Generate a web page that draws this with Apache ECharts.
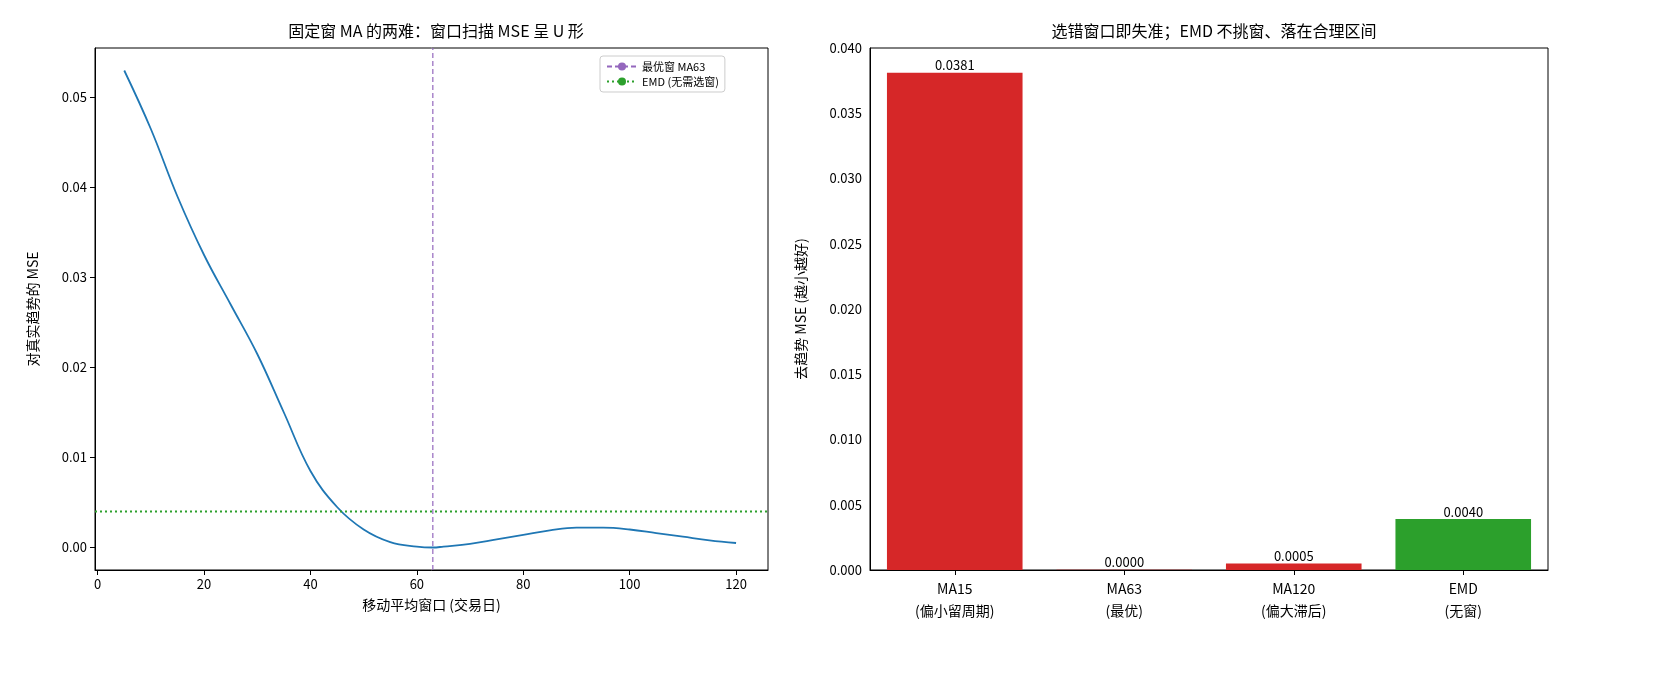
<![CDATA[<!DOCTYPE html><html><head><meta charset="utf-8"><script src="https://cdn.jsdelivr.net/npm/echarts@6/dist/echarts.min.js"></script>
<style>body{margin:0}#c{width:1680px;height:700px}</style></head><body><div id="c"></div><script>
const winX=[5,10,15,20,25,30,35,40,45,50,55,60,63,65,70,75,80,85,90,95,100,105,110,115,120];
const mseY=[0.053,0.0465,0.039,0.0325,0.027,0.0215,0.015,0.0085,0.0045,0.002,0.0006,0.0001,0,0.0001,0.0004,0.0009,0.0014,0.0019,0.0022,0.0022,0.002,0.0016,0.0012,0.0008,0.0005];
const bestWin=63, emdMse=0.004;
const barCats=['MA15\n(偏小留周期)','MA63\n(最优)','MA120\n(偏大滞后)','EMD\n(无窗)'];
const barVals=[0.0381,0.00001,0.0005,0.0039];
const barLabels=['0.0381','0.0000','0.0005','0.0040'];
const barColors=['#d62728','#d62728','#d62728','#2ca02c'];
const F='"Noto Sans CJK SC", sans-serif';
const ax={axisLine:{show:true,onZero:false,lineStyle:{color:'#000'}},axisTick:{lineStyle:{color:'#000'}},axisLabel:{color:'#000',fontSize:13,fontFamily:F},splitLine:{show:false}};
const c=echarts.init(document.getElementById('c'));
c.setOption({animation:false,textStyle:{fontFamily:F},
title:[{text:'固定窗 MA 的两难：窗口扫描 MSE 呈 U 形',left:431,top:18,textAlign:'center',textStyle:{fontSize:16,fontWeight:'normal',color:'#000'}},
{text:'选错窗口即失准；EMD 不挑窗、落在合理区间',left:1209,top:18,textAlign:'center',textStyle:{fontSize:16,fontWeight:'normal',color:'#000'}}],
legend:{left:600,top:56,orient:'vertical',itemWidth:30,itemHeight:10,borderColor:'#ccc',borderWidth:1,borderRadius:3,padding:[5,6],itemGap:4,textStyle:{fontSize:11,color:'#000'},data:['最优窗 MA63','EMD (无需选窗)']},
grid:[{left:95,top:48,width:673,bottom:130,show:true,borderColor:'#000',borderWidth:1},{left:870,top:48,width:678,bottom:130,show:true,borderColor:'#000',borderWidth:1}],
xAxis:[{...ax,type:'value',gridIndex:0,min:-0.5,max:126,name:'移动平均窗口 (交易日)',nameLocation:'middle',nameGap:28,nameTextStyle:{fontSize:14,color:'#000'},axisLabel:{...ax.axisLabel,customValues:[0,20,40,60,80,100,120]},axisTick:{...ax.axisTick,customValues:[0,20,40,60,80,100,120]}},
{...ax,type:'category',gridIndex:1,data:barCats,axisTick:{show:true,alignWithLabel:true,lineStyle:{color:'#000'}},axisLabel:{...ax.axisLabel,fontSize:14,lineHeight:22}}],
yAxis:[{...ax,type:'value',gridIndex:0,min:-0.0025,max:0.0555,name:'对真实趋势的 MSE',nameLocation:'middle',nameGap:55,nameTextStyle:{fontSize:14,color:'#000'},axisLabel:{...ax.axisLabel,customValues:[0,0.01,0.02,0.03,0.04,0.05],formatter:v=>v.toFixed(2)},axisTick:{...ax.axisTick,customValues:[0,0.01,0.02,0.03,0.04,0.05]}},
{...ax,type:'value',gridIndex:1,min:0,max:0.04,interval:0.005,name:'去趋势 MSE (越小越好)',nameLocation:'middle',nameGap:62,nameTextStyle:{fontSize:14,color:'#000'},axisLabel:{...ax.axisLabel,formatter:v=>v.toFixed(3)}}],
series:[{type:'line',xAxisIndex:0,yAxisIndex:0,data:winX.map((x,i)=>[x,mseY[i]]),smooth:0.4,showSymbol:false,lineStyle:{color:'#1f77b4',width:1.8},z:3},
{name:'最优窗 MA63',type:'line',xAxisIndex:0,yAxisIndex:0,data:[[bestWin,-0.0025],[bestWin,0.0555]],symbol:'none',color:'#9467bd',lineStyle:{color:'#9467bd',width:1.2,type:[5,3]}},
{name:'EMD (无需选窗)',type:'line',xAxisIndex:0,yAxisIndex:0,data:[[-0.5,emdMse],[126,emdMse]],symbol:'none',color:'#2ca02c',lineStyle:{color:'#2ca02c',width:2.2,type:[2,3]}},
{type:'bar',xAxisIndex:1,yAxisIndex:1,barWidth:'80%',data:barVals.map((v,i)=>({value:v,itemStyle:{color:barColors[i]},label:{show:true,position:'top',distance:1,formatter:barLabels[i],fontSize:13,color:'#000'}}))}]});
</script></body></html>]]>
